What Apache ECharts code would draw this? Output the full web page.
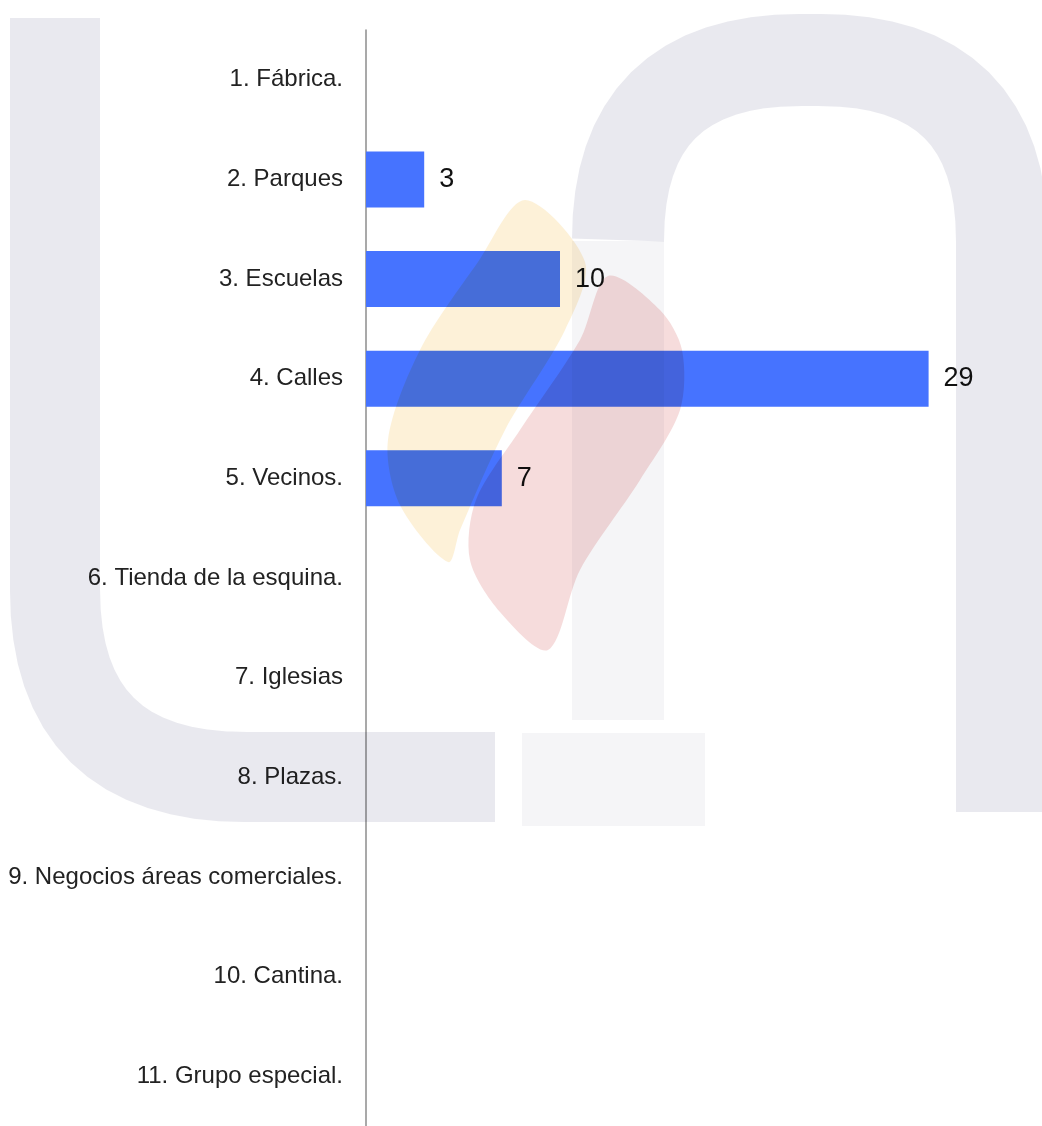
<!DOCTYPE html>
<html>
<head>
<meta charset="utf-8">
<script src="https://cdn.jsdelivr.net/npm/echarts@6/dist/echarts.min.js"></script>
<style>
html, body { margin: 0; padding: 0; background: #fff; }
#chart { width: 1042px; height: 1126px; }
</style>
</head>
<body>
<div id="chart"></div>
<script>
var categorias = ['1. Fábrica.', '2. Parques', '3. Escuelas', '4. Calles', '5. Vecinos.',
	'6. Tienda de la esquina.', '7. Iglesias', '8. Plazas.', '9. Negocios áreas comerciales.',
	'10. Cantina.', '11. Grupo especial.'];
var valores = [0, 3, 10, 29, 7, 0, 0, 0, 0, 0, 0];

var myChart = echarts.init(document.getElementById('chart'));

/* marca de agua de fondo (logo) - curva cuadratica muestreada */
function curva(p0, c, p1) {
	var pts = [];
	for (var i = 0; i <= 16; i++) {
		var t = i / 16, u = 1 - t;
		pts.push([u * u * p0[0] + 2 * u * t * c[0] + t * t * p1[0],
			u * u * p0[1] + 2 * u * t * c[1] + t * t * p1[1]]);
	}
	return pts;
}
var trazoU = [[55, 18]].concat(curva([55, 590], [55, 777], [245, 777])).concat([[495, 777]]);
var trazoN = curva([618, 240], [618, 60], [800, 60])
	.concat(curva([820, 60], [1002, 60], [1002, 240])).concat([[1002, 812]]);

var gris = '#e9e9ef', grisClaro = '#f5f5f7';
var marca = [
	{
		type: 'rect', silent: true, z: 100,
		shape: { x: 572, y: 241, width: 92, height: 479 },
		style: { fill: grisClaro, blend: 'multiply' }
	},
	{
		type: 'rect', silent: true, z: 100,
		shape: { x: 522, y: 733, width: 183, height: 93 },
		style: { fill: grisClaro, blend: 'multiply' }
	},
	{
		type: 'polyline', silent: true, z: 100,
		shape: { points: trazoU },
		style: { fill: null, stroke: gris, lineWidth: 90, blend: 'multiply' }
	},
	{
		type: 'polyline', silent: true, z: 100,
		shape: { points: trazoN },
		style: { fill: null, stroke: gris, lineWidth: 92, blend: 'multiply' }
	},
	{
		type: 'polygon', silent: true, z: 101,
		shape: { points: [[525, 200], [585, 262], [565, 330], [505, 430], [460, 530], [448, 562], [400, 505], [388, 440], [420, 350], [478, 262]], smooth: 0.3 },
		style: { fill: '#fdf1d8', blend: 'multiply' }
	},
	{
		type: 'polygon', silent: true, z: 101,
		shape: { points: [[608, 276], [660, 310], [682, 350], [680, 410], [640, 480], [580, 570], [548, 650], [500, 612], [470, 560], [476, 500], [520, 430], [580, 340]], smooth: 0.3 },
		style: { fill: '#f6dcdc', blend: 'multiply' }
	}
];

var option = {
	animation: false,
	backgroundColor: '#ffffff',
	grid: { left: 366, right: 94, top: 30, bottom: -4, containLabel: false },
	xAxis: {
		type: 'value', min: 0, max: 30,
		axisLine: { show: false }, axisTick: { show: false },
		axisLabel: { show: false }, splitLine: { show: false }
	},
	yAxis: {
		type: 'category',
		inverse: true,
		data: categorias,
		axisLine: { show: true, lineStyle: { color: '#8c8c8c', width: 1.5 } },
		axisTick: { show: false },
		axisLabel: { margin: 23, fontSize: 24, color: '#222', fontFamily: 'Arial, "Liberation Sans"' }
	},
	series: [{
		type: 'bar',
		data: valores,
		barWidth: 56,
		itemStyle: { color: '#4673FF' },
		label: {
			show: true, position: 'right', distance: 15,
			fontSize: 27, color: '#111', fontFamily: 'Arial, "Liberation Sans"',
			formatter: function (p) { return p.value ? p.value : ''; }
		}
	}],
	graphic: marca
};
myChart.setOption(option);
</script>
</body>
</html>
